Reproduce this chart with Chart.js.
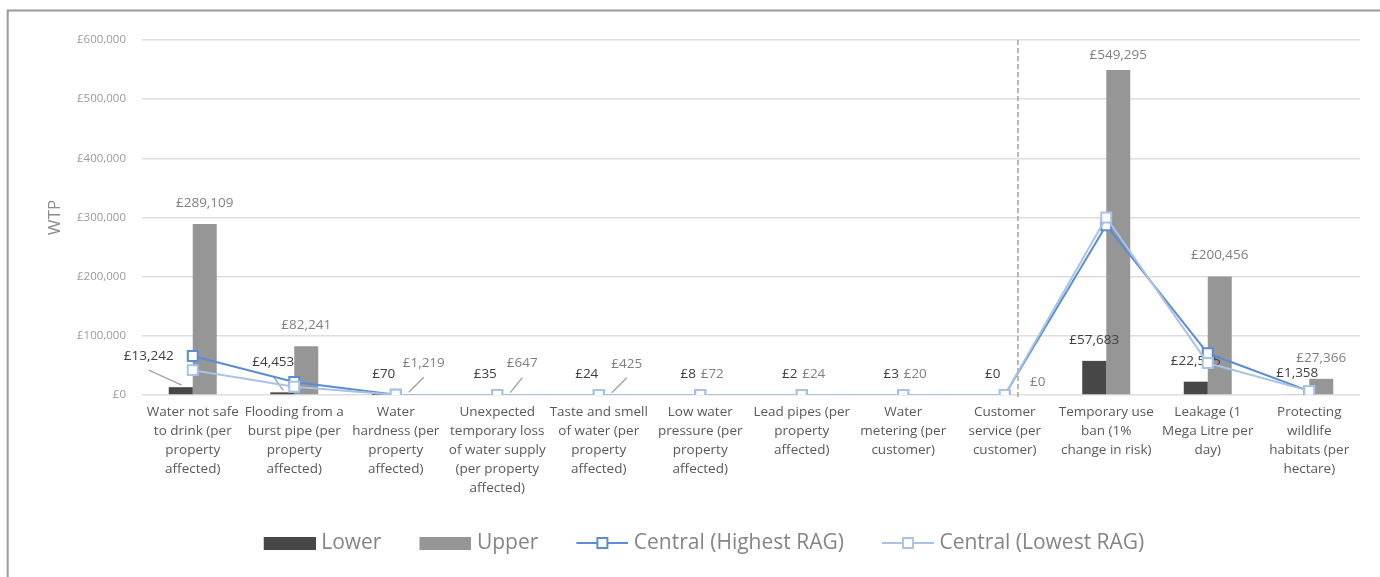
<!DOCTYPE html>
<html><head><meta charset="utf-8">
<script src="https://cdn.jsdelivr.net/npm/chart.js@4"></script>
<style>html,body{margin:0;padding:0;background:#fff;}#wrap{width:1380px;height:577px;position:relative;}</style>
</head><body><div id="wrap"><canvas id="c" width="1380" height="577"></canvas></div>
<script>
const categories = [
  ["Water not safe", "to drink (per", "property", "affected)"],
  ["Flooding from a", "burst pipe (per", "property", "affected)"],
  ["Water", "hardness (per", "property", "affected)"],
  ["Unexpected", "temporary loss", "of water supply", "(per property", "affected)"],
  ["Taste and smell", "of water (per", "property", "affected)"],
  ["Low water", "pressure (per", "property", "affected)"],
  ["Lead pipes (per", "property", "affected)"],
  ["Water", "metering (per", "customer)"],
  ["Customer", "service (per", "customer)"],
  ["Temporary use", "ban (1%", "change in risk)"],
  ["Leakage (1", "Mega Litre per", "day)"],
  ["Protecting", "wildlife", "habitats (per", "hectare)"]
];
const lowerValues = [13242, 4453, 70, 35, 24, 8, 2, 3, 0, 57683, 22545, 1358];
const upperValues = [289109, 82241, 1219, 647, 425, 72, 24, 20, 0, 549295, 200456, 27366];
const centralHighest = [66000, 22000, 400, 200, 150, 30, 10, 8, 0, 287000, 70500, 6500];
const centralLowest = [42000, 14000, 350, 180, 120, 25, 8, 6, 0, 300000, 54000, 7000];
const yTickValues = [0, 100000, 200000, 300000, 400000, 500000, 600000];

// label placement tweaks (pixel offsets relative to default spot, leader flag)
const lowerLabelShift = {0: [-32, -10, true], 1: [-9, -9, true]};
const upperLabelShift = {2: [16, -10, true], 3: [13, -10, true], 4: [16, -10, true], 8: [21, 8, false], 9: [0, 6, false]};

const COL_LOWER = '#474747', COL_UPPER = '#969696', COL_HIGH = '#5b8dd2', COL_LOW = '#a9c3e6';

function fmt(v) { return '£' + v.toLocaleString('en-GB'); }

// legend icons: 65px wide canvas, symbol in the right-hand 52px
function boxIcon(color) {
  const c = document.createElement('canvas'); c.width = 65; c.height = 13;
  const x = c.getContext('2d'); x.fillStyle = color; x.fillRect(13, 0, 52, 13); return c;
}
function lineIcon(color) {
  const c = document.createElement('canvas'); c.width = 65; c.height = 14;
  const x = c.getContext('2d');
  x.strokeStyle = color; x.lineWidth = 2;
  x.beginPath(); x.moveTo(13, 7); x.lineTo(65, 7); x.stroke();
  x.fillStyle = '#fff'; x.fillRect(34, 2, 10, 10);
  x.strokeRect(34, 2, 10, 10);
  return c;
}

const framePlugin = {
  id: 'frame',
  beforeDraw(chart) {
    const ctx = chart.ctx; ctx.save();
    ctx.fillStyle = '#fff'; ctx.fillRect(0, 0, chart.width, chart.height);
    ctx.strokeStyle = '#9a9a9a'; ctx.lineWidth = 2;
    ctx.beginPath(); ctx.moveTo(7.7, chart.height); ctx.lineTo(7.7, 10.5); ctx.lineTo(chart.width, 10.5); ctx.stroke();
    ctx.restore();
  },
  beforeDatasetsDraw(chart) {
    const xs = chart.scales.x, ca = chart.chartArea, ctx = chart.ctx;
    const p8 = xs.getPixelForValue(8), p9 = xs.getPixelForValue(9);
    const dx = p8 + (p9 - p8) * 0.13;
    ctx.save(); ctx.strokeStyle = '#a0a0a0'; ctx.lineWidth = 1.5; ctx.setLineDash([5, 3]);
    ctx.beginPath(); ctx.moveTo(dx, ca.top); ctx.lineTo(dx, ca.bottom + 4); ctx.stroke();
    ctx.restore();
  },
  afterDatasetDraw(chart, args) {
    if (args.index !== 0) return;
    const ctx = chart.ctx; ctx.save();
    ctx.font = '13.5px "Open Sans"'; ctx.textAlign = 'center'; ctx.textBaseline = 'middle';
    [[0, lowerValues, lowerLabelShift, '#404040'], [1, upperValues, upperLabelShift, '#808080']].forEach(([di, vals, shifts, color]) => {
      chart.getDatasetMeta(di).data.forEach((bar, i) => {
        const s = shifts[i] || [0, 0, false];
        const lx = bar.x + s[0], ly = bar.y - 21 + s[1];
        if (s[2]) {
          ctx.strokeStyle = '#a6a6a6'; ctx.lineWidth = 1.5;
          ctx.beginPath(); ctx.moveTo(lx, ly + 14); ctx.lineTo(bar.x + 1, bar.y - 2); ctx.stroke();
        }
        ctx.fillStyle = color; ctx.fillText(fmt(vals[i]), lx, ly);
      });
    });
    ctx.restore();
  }
};

function build() {
  Chart.defaults.font.family = '"Open Sans"';
  const icons = [boxIcon(COL_LOWER), boxIcon(COL_UPPER), lineIcon(COL_HIGH), lineIcon(COL_LOW)];
  new Chart(document.getElementById('c'), {
    type: 'bar',
    data: {
      labels: categories,
      datasets: [
        {label: 'Lower', data: lowerValues, backgroundColor: COL_LOWER, order: 2, categoryPercentage: 0.473, barPercentage: 1},
        {label: 'Upper', data: upperValues, backgroundColor: COL_UPPER, order: 2, categoryPercentage: 0.473, barPercentage: 1},
        {label: 'Central (Highest RAG)', type: 'line', data: centralHighest, borderColor: COL_HIGH, borderWidth: 2, pointStyle: 'rect', pointRadius: 7, pointBorderWidth: 2, pointBackgroundColor: '#fff', pointBorderColor: COL_HIGH, order: 1, tension: 0},
        {label: 'Central (Lowest RAG)', type: 'line', data: centralLowest, borderColor: COL_LOW, borderWidth: 2, pointStyle: 'rect', pointRadius: 7, pointBorderWidth: 2, pointBackgroundColor: '#fff', pointBorderColor: COL_LOW, order: 0, tension: 0}
      ]
    },
    options: {
      responsive: false, animation: false, devicePixelRatio: 1,
      layout: {padding: {left: 40, right: 20, top: 40, bottom: 13.5}},
      plugins: {
        tooltip: {enabled: false},
        legend: {
          position: 'bottom',
          labels: {
            usePointStyle: true, pointStyleWidth: 55, boxHeight: 13, padding: 30,
            font: {size: 21}, color: '#858585',
            generateLabels(chart) {
              return chart.data.datasets.map((ds, i) => ({text: ds.label, pointStyle: icons[i], fontColor: '#858585', datasetIndex: i, hidden: false, lineWidth: 0, strokeStyle: 'transparent', fillStyle: 'transparent'}));
            }
          }
        }
      },
      scales: {
        x: {
          grid: {display: false, drawTicks: false}, border: {display: false},
          ticks: {color: '#595959', font: {size: 13.5, lineHeight: 1.4}, padding: 8, maxRotation: 0, autoSkip: false},
          afterFit(s) { s.height = 107.5; }
        },
        y: {
          min: 0, max: 600000,
          afterBuildTicks(s) { s.ticks = yTickValues.map(v => ({value: v})); },
          grid: {color: '#dedede', lineWidth: 1.5, drawTicks: false}, border: {display: false},
          ticks: {color: '#9a9a9a', font: {size: 11.5}, padding: 16, callback: v => fmt(v)},
          title: {display: true, text: 'WTP', color: '#8c8c8c', font: {size: 17}, padding: {top: 5}},
          afterFit(s) { s.width = 102; }
        }
      }
    },
    plugins: [framePlugin]
  });
}
if (document.fonts && document.fonts.load) {
  Promise.all([document.fonts.load('13px "Open Sans"')]).then(build, build);
} else build();
</script></body></html>
